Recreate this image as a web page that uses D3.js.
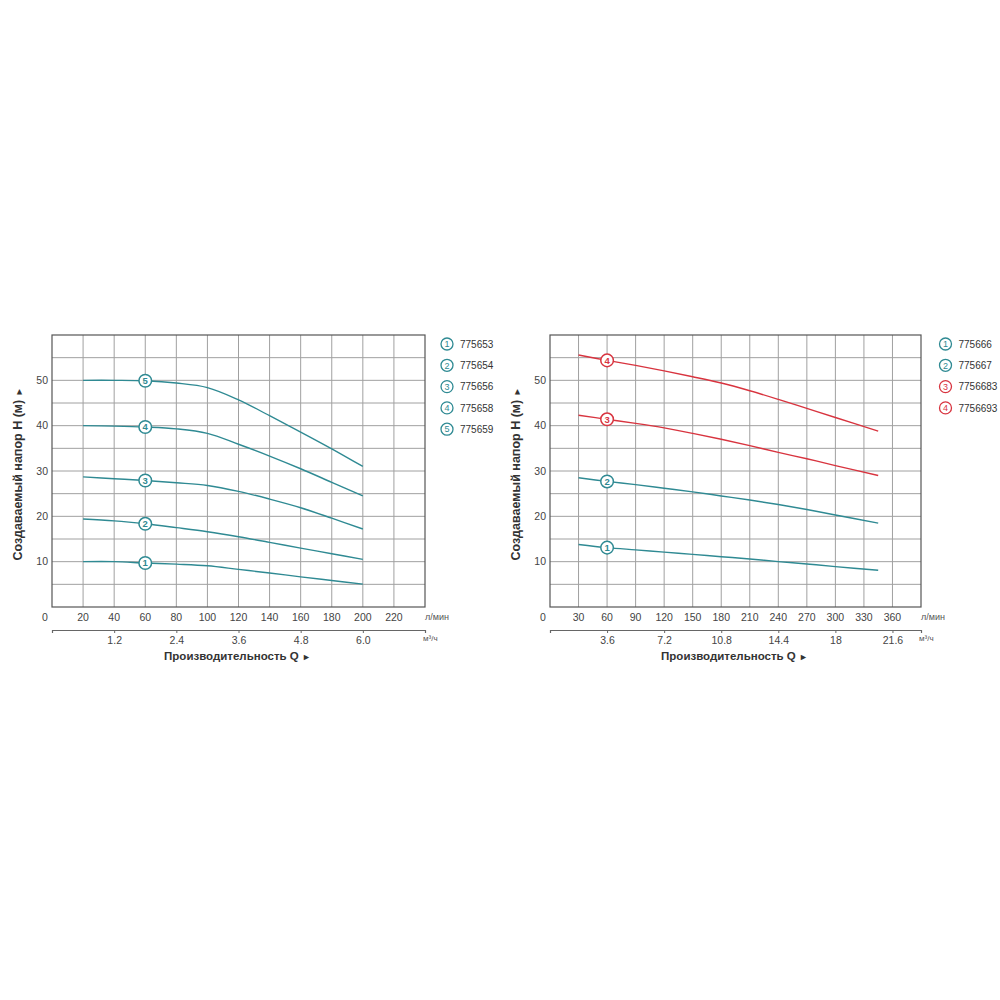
<!DOCTYPE html>
<html>
<head>
<meta charset="utf-8">
<script src="https://cdn.jsdelivr.net/npm/d3@7"></script>
<style>
  body { margin: 0; background: #fff; }
  svg { font-family: "Liberation Sans", Arial, sans-serif; }
</style>
</head>
<body>
<svg id="chart" width="1000" height="1000"></svg>
<script>
// ---- data ----
const TEAL = "#2f8a93";
const RED = "#d8343f";

// left chart (l/min -> m)
const leftFlow = [20, 40, 60, 80, 100, 120, 140, 160, 180, 200];
const leftHead1 = [10.0, 10.0, 9.7, 9.45, 9.1, 8.3, 7.5, 6.65, 5.85, 5.05];
const leftHead2 = [19.4, 19.0, 18.35, 17.5, 16.6, 15.5, 14.25, 13.0, 11.75, 10.5];
const leftHead3 = [28.7, 28.3, 27.9, 27.4, 26.8, 25.5, 23.8, 21.9, 19.6, 17.2];
const leftHead4 = [40.0, 39.9, 39.7, 39.3, 38.3, 35.9, 33.3, 30.5, 27.5, 24.5];
const leftHead5 = [50.0, 50.0, 49.9, 49.4, 48.4, 45.7, 42.2, 38.6, 34.9, 31.0];
const leftModels = ["775653", "775654", "775656", "775658", "775659"];
const leftColors = [TEAL, TEAL, TEAL, TEAL, TEAL];
const leftFlowTicks = [20, 40, 60, 80, 100, 120, 140, 160, 180, 200, 220];
const leftCubicTicks = [1.2, 2.4, 3.6, 4.8, 6.0];

// right chart
const rightFlow = [30, 60, 90, 120, 150, 180, 210, 240, 270, 300, 345];
const rightHead1 = [13.8, 13.1, 12.6, 12.1, 11.6, 11.1, 10.6, 10.0, 9.5, 8.9, 8.1];
const rightHead2 = [28.5, 27.7, 27.0, 26.2, 25.4, 24.5, 23.6, 22.6, 21.5, 20.3, 18.5];
const rightHead3 = [42.3, 41.4, 40.5, 39.5, 38.3, 37.0, 35.6, 34.1, 32.7, 31.2, 29.0];
const rightHead4 = [55.6, 54.4, 53.3, 52.1, 50.8, 49.4, 47.7, 45.8, 43.8, 41.8, 38.8];
const rightModels = ["775666", "775667", "7756683", "7756693"];
const rightColors = [TEAL, TEAL, RED, RED];
const rightFlowTicks = [30, 60, 90, 120, 150, 180, 210, 240, 270, 300, 330, 360];
const rightCubicTicks = [3.6, 7.2, 10.8, 14.4, 18, 21.6];

const headTicks = [10, 20, 30, 40, 50];
const markerFlow = 60;

const svg = d3.select("#chart");

function drawChart(opt) {
  const x = d3.scaleLinear().domain([0, opt.flowMax]).range([opt.left, opt.right]);
  const xq = d3.scaleLinear().domain([0, opt.cubicMax]).range([opt.left, opt.right]);
  const y = d3.scaleLinear().domain([0, 60]).range([607, 335]);

  const g = svg.append("g");

  // grid
  const grid = g.append("g").attr("stroke", "#a0a0a0").attr("stroke-width", 1);
  grid.selectAll("line.v")
    .data(opt.flowTicks)
    .enter()
    .append("line")
    .attr("x1", d => x(d)).attr("x2", d => x(d))
    .attr("y1", y(0)).attr("y2", y(60));
  grid.selectAll("line.h")
    .data(d3.range(5, 60, 5))
    .enter()
    .append("line")
    .attr("x1", x(0)).attr("x2", x(opt.flowMax))
    .attr("y1", d => y(d)).attr("y2", d => y(d));

  // frame
  g.append("rect")
    .attr("x", x(0)).attr("y", y(60))
    .attr("width", x(opt.flowMax) - x(0))
    .attr("height", y(0) - y(60))
    .attr("fill", "none")
    .attr("stroke", "#555")
    .attr("stroke-width", 1.2);

  // head tick labels
  g.selectAll("text.yt")
    .data(headTicks)
    .enter()
    .append("text")
    .attr("x", x(0) - 4)
    .attr("y", d => y(d))
    .attr("dy", "0.35em")
    .attr("text-anchor", "end")
    .attr("font-size", 10.5)
    .attr("fill", "#444")
    .text(d => d);

  // flow tick labels (l/min)
  g.selectAll("text.xt")
    .data([0].concat(opt.flowTicks))
    .enter()
    .append("text")
    .attr("x", d => d === 0 ? x(0) - 7 : x(d))
    .attr("y", 617)
    .attr("dy", "0.35em")
    .attr("text-anchor", "middle")
    .attr("font-size", 10.5)
    .attr("fill", "#444")
    .text(d => d);

  g.append("text")
    .attr("x", x(opt.flowMax) + 0)
    .attr("y", 617)
    .attr("dy", "0.35em")
    .attr("font-size", 9)
    .attr("fill", "#555")
    .text("л/мин");

  // second axis (m3/h)
  const axisQ = d3.axisBottom(xq)
    .tickValues(opt.cubicTicks)
    .tickSize(3)
    .tickFormat((d, i) => opt.cubicLabels[i]);
  const ag = g.append("g").attr("transform", "translate(0,630)").call(axisQ);
  ag.select(".domain").attr("stroke", "#666").attr("stroke-width", 1.2);
  ag.selectAll(".tick line").attr("stroke", "#666");
  ag.selectAll(".tick text")
    .attr("font-size", 10.5)
    .attr("font-family", "Liberation Sans, Arial, sans-serif")
    .attr("fill", "#444")
    .attr("y", 7);

  g.append("text")
    .attr("x", x(opt.flowMax) - 2)
    .attr("y", 638)
    .attr("dy", "0.35em")
    .attr("font-size", 8)
    .attr("fill", "#555")
    .text("м³/ч");

  // axis titles
  const xt = g.append("text")
    .attr("x", (x(0) + x(opt.flowMax)) / 2 - 1)
    .attr("y", 660)
    .attr("text-anchor", "middle")
    .attr("font-size", 11.5)
    .attr("font-weight", "bold")
    .attr("fill", "#333")
    .text("Производительность Q ");
  xt.append("tspan").attr("font-size", 9).text("►");

  const yt = g.append("text")
    .attr("transform", `translate(${opt.left - 30},474) rotate(-90)`)
    .attr("text-anchor", "middle")
    .attr("font-size", 12.5)
    .attr("font-weight", "bold")
    .attr("fill", "#333")
    .text("Создаваемый напор H (м) ");
  yt.append("tspan").attr("font-size", 9).text("►");

  // curves
  const line = d3.line()
    .x((d, i) => x(opt.flow[i]))
    .y(d => y(d))
    .curve(d3.curveCatmullRom.alpha(0.5));

  opt.heads.forEach((head, k) => {
    g.append("path")
      .attr("d", line(head))
      .attr("fill", "none")
      .attr("stroke", opt.colors[k])
      .attr("stroke-width", 1.4);

    const mi = opt.flow.indexOf(markerFlow);
    const mg = g.append("g")
      .attr("transform", `translate(${x(markerFlow)},${y(head[mi])})`);
    mg.append("circle")
      .attr("r", 6.3)
      .attr("fill", "#fff")
      .attr("stroke", opt.colors[k])
      .attr("stroke-width", 1.5);
    mg.append("text")
      .attr("text-anchor", "middle")
      .attr("dy", "0.36em")
      .attr("font-size", 9.5)
      .attr("font-weight", "bold")
      .attr("fill", opt.colors[k])
      .text(k + 1);
  });

  // legend
  const lg = g.append("g");
  opt.models.forEach((m, k) => {
    const ly = 344 + k * 21.3;
    lg.append("circle")
      .attr("cx", opt.legendX)
      .attr("cy", ly)
      .attr("r", 6)
      .attr("fill", "#fff")
      .attr("stroke", opt.colors[k])
      .attr("stroke-width", 1.3);
    lg.append("text")
      .attr("x", opt.legendX)
      .attr("y", ly)
      .attr("dy", "0.36em")
      .attr("text-anchor", "middle")
      .attr("font-size", 9)
      .attr("fill", opt.colors[k])
      .text(k + 1);
    lg.append("text")
      .attr("x", opt.legendX + 13)
      .attr("y", ly)
      .attr("dy", "0.36em")
      .attr("font-size", 10)
      .attr("fill", "#333")
      .text(m);
  });
}

drawChart({
  left: 52, right: 425,
  flowMax: 240, cubicMax: 7.2,
  flow: leftFlow,
  heads: [leftHead1, leftHead2, leftHead3, leftHead4, leftHead5],
  colors: leftColors,
  models: leftModels,
  flowTicks: leftFlowTicks,
  cubicTicks: leftCubicTicks,
  cubicLabels: ["1.2", "2.4", "3.6", "4.8", "6.0"],
  legendX: 447
});

drawChart({
  left: 550, right: 921,
  flowMax: 390, cubicMax: 23.4,
  flow: rightFlow,
  heads: [rightHead1, rightHead2, rightHead3, rightHead4],
  colors: rightColors,
  models: rightModels,
  flowTicks: rightFlowTicks,
  cubicTicks: rightCubicTicks,
  cubicLabels: ["3.6", "7.2", "10.8", "14.4", "18", "21.6"],
  legendX: 945.5
});
</script>
</body>
</html>
